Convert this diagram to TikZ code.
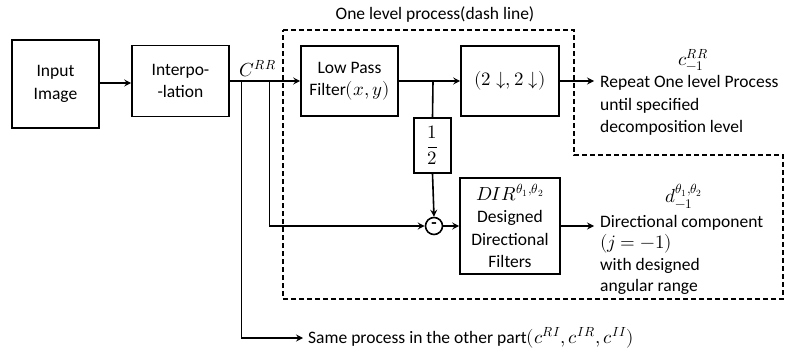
\documentclass[tikz,border=0pt]{standalone}
\usepackage{fontspec}
\usepackage{unicode-math}
\setmainfont{Carlito}
\setmathfont{Latin Modern Math}[Scale=1.08]
\usetikzlibrary{arrows.meta}
\begin{document}
\begin{tikzpicture}[x=1pt,y=-1pt,
  every node/.style={font=\fontsize{17.5}{22.5}\selectfont},
  blk/.style={draw,line width=1.6pt,rectangle,align=center,inner sep=1pt},
  con/.style={line width=1.6pt},
  thin/.style={line width=0.9pt},
  arr/.style={-{Stealth[length=7pt,width=7pt,inset=2.5pt]}},
  dashbox/.style={line width=1.8pt,dash pattern=on 5pt off 3pt},
  txt/.style={align=left,inner sep=0pt,anchor=west}]
\useasboundingbox (0,0) rectangle (789,358);
% blocks
\node[blk,minimum width=87pt,minimum height=88pt] (inp) at (55.5,84) {Input\\Image};
\node[blk,minimum width=97pt,minimum height=71pt] (interp) at (180.5,81) {Interpo-\\-lation};
\node[blk,minimum width=97pt,minimum height=70pt] (lpf) at (349.5,81) {Low Pass\\Filter$(x,y)$};
\node[blk,minimum width=98pt,minimum height=70pt] (ds) at (510,81) {$(2\downarrow,2\downarrow)$};
\node[blk,minimum width=37pt,minimum height=55pt] (half) at (432.5,145.5) {$\displaystyle\frac{1}{2}$};
\node[draw,circle,line width=1.6pt,minimum size=17pt,inner sep=0pt] (minus) at (434,226) {\bfseries\raisebox{1pt}{-}};
\node[blk,minimum width=100pt,minimum height=96pt] (dir) at (510,226) {$DIR^{\theta_1,\theta_2}$\\Designed\\Directional\\Filters};
% dashed region
\draw[dashbox] (283,30) -- (574,30) -- (574,155) -- (783,155) -- (783,299) -- (283,299) -- cycle;
\node (title) at (435,15) {One level process(dash line)};
% labels
\node (crr) at (258,69) {$C^{RR}$};
\node (clab) at (693,60) {$c^{RR}_{-1}$};
\node (dlab) at (684,196) {$d^{\theta_1,\theta_2}_{-1}$};
\node[txt] (rep) at (600,105.5) {Repeat One level Process\\until specified\\decomposition level};
\node[txt,font=\fontsize{17.5}{21.5}\selectfont] (dirtxt) at (600,255) {Directional component\\$(j=-1)$\\with designed\\angular range};
\node[txt] (same) at (308,338) {Same process in the other part$(c^{RI},c^{IR},c^{II})$};
% coordinates
\coordinate (b1) at (241,81);
\coordinate (b2) at (269,81);
\coordinate (b3) at (433,81);
\coordinate (e1) at (594,81);
\coordinate (e2) at (594,226);
\coordinate (e3) at (303,338);
% connectors
\draw[con,arr] (inp.east |- 0,83) -- (interp.west |- 0,83);
\draw[con,arr] (interp.east) -- (lpf.west);
\draw[con,arr] (lpf.east) -- (ds.west);
\draw[con] (b3) -- (half.north);
\draw[con,arr] (half.south) -- (minus.north);
\draw[con,arr] (minus.east) -- (dir.west);
\draw[con,arr] (ds.east) -- (e1);
\draw[con,arr] (dir.east) -- (e2);
\draw[thin] (b2) -- (b2 |- minus);
\draw[con,arr] (b2 |- minus) -- (minus.west);
\draw[thin] (b1) -- (b1 |- e3);
\draw[con,arr] (b1 |- e3) -- (e3);
\end{tikzpicture}
\end{document}
